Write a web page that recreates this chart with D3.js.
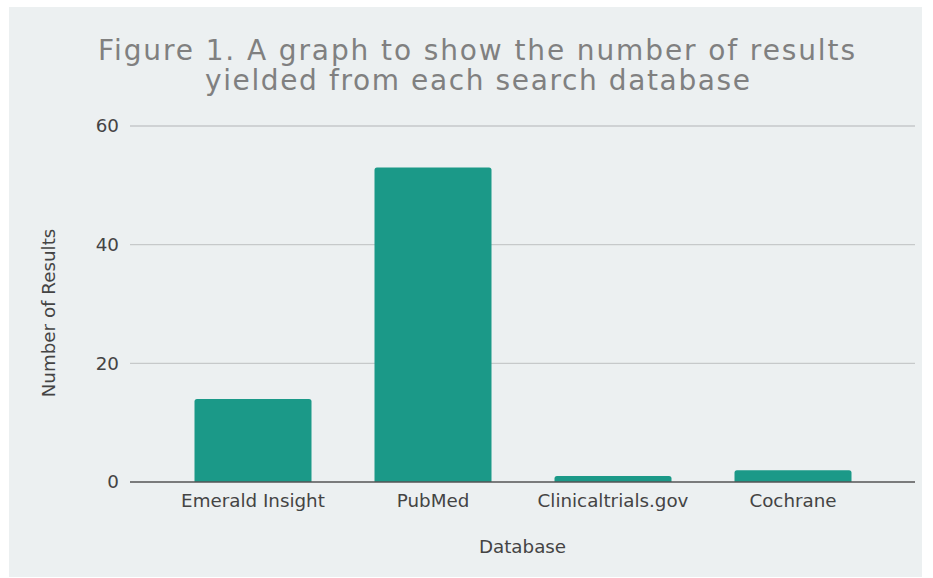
<!DOCTYPE html>
<html><head><meta charset="utf-8">
<script src="https://cdn.jsdelivr.net/npm/d3@7"></script>
<style>html,body{margin:0;padding:0;background:#fff}</style>
</head><body>
<svg id="c" width="933" height="578"></svg>
<script>
const categories = ["Emerald Insight", "PubMed", "Clinicaltrials.gov", "Cochrane"];
const values = [14, 53, 1, 2];
const yTicks = [0, 20, 40, 60];
const titleLines = ["Figure 1. A graph to show the number of results", "yielded from each search database"];
const xTitle = "Database";
const yTitle = "Number of Results";

const svg = d3.select("#c");
svg.append("rect").attr("x", 9).attr("y", 7).attr("width", 913).attr("height", 570).attr("fill", "#ecf0f1");

const plotL = 130, plotR = 915, y0 = 482, yTop = 126;
const x = d3.scaleBand().domain(categories).range([163, 883]).paddingInner(0.35).paddingOuter(0.175);
const y = d3.scaleLinear().domain([0, 60]).range([y0, yTop]);

const font = "'DejaVu Sans', Verdana, sans-serif";
const fs = 18.3;

// gridlines
svg.append("g").selectAll("line").data(yTicks.filter(d => d !== 0)).join("line")
  .attr("x1", plotL).attr("x2", plotR).attr("y1", d => y(d)).attr("y2", d => y(d))
  .attr("stroke", "#c6c9ca").attr("stroke-width", 1.3);

// y tick labels
svg.append("g").selectAll("text").data(yTicks).join("text")
  .attr("x", 119).attr("y", d => y(d)).attr("dy", "0.35em").attr("text-anchor", "end")
  .attr("font-family", font).attr("font-size", fs).attr("fill", "#444").text(d => d);

// bars with rounded tops
const r = 2.5;
svg.append("g").selectAll("path").data(categories).join("path")
  .attr("d", (c, i) => {
    const x0 = x(c), w = x.bandwidth(), yt = y(values[i]), yb = y(0);
    const rr = Math.min(r, (yb - yt));
    return `M${x0},${yb}V${yt + rr}Q${x0},${yt} ${x0 + rr},${yt}H${x0 + w - rr}Q${x0 + w},${yt} ${x0 + w},${yt + rr}V${yb}Z`;
  })
  .attr("fill", "#1b9988");

// baseline
svg.append("line").attr("x1", plotL).attr("x2", plotR).attr("y1", y0).attr("y2", y0)
  .attr("stroke", "#555").attr("stroke-width", 1.5);

// x tick labels
svg.append("g").selectAll("text").data(categories).join("text")
  .attr("x", d => x(d) + x.bandwidth() / 2).attr("y", 507).attr("text-anchor", "middle")
  .attr("font-family", font).attr("font-size", fs).attr("fill", "#444").text(d => d);

// axis titles
svg.append("text").attr("x", 522.5).attr("y", 553).attr("text-anchor", "middle")
  .attr("font-family", font).attr("font-size", fs).attr("fill", "#444").text(xTitle);
svg.append("text").attr("transform", "translate(55,313) rotate(-90)").attr("text-anchor", "middle")
  .attr("font-family", font).attr("font-size", fs).attr("fill", "#444").text(yTitle);

// title
const tl = [[98, 60, 757], [205, 90, 545]];
svg.append("g").selectAll("text").data(titleLines).join("text")
  .attr("x", (d, i) => tl[i][0]).attr("y", (d, i) => tl[i][1])
  .attr("textLength", (d, i) => tl[i][2]).attr("lengthAdjust", "spacing")
  .attr("font-family", font).attr("font-size", 28)
  .attr("fill", "#808080").text(d => d);
</script>
</body></html>
